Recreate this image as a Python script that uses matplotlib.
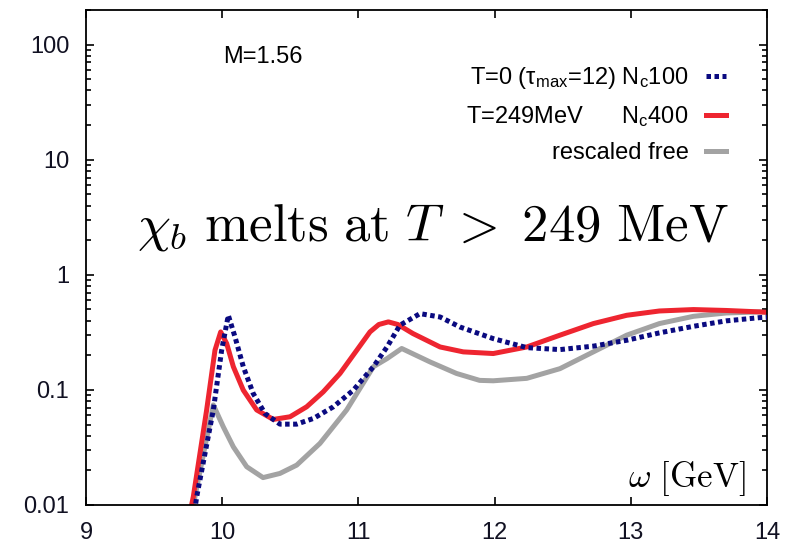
import matplotlib
matplotlib.use("Agg")
import matplotlib.pyplot as plt
from matplotlib.ticker import LogLocator, NullFormatter, FixedLocator

plt.rcParams['font.family'] = ['Liberation Sans', 'DejaVu Sans']
plt.rcParams['mathtext.fontset'] = 'custom'
plt.rcParams['mathtext.rm'] = 'Liberation Sans'
plt.rcParams['mathtext.it'] = 'Liberation Sans:italic'
plt.rcParams['mathtext.bf'] = 'Liberation Sans:bold'

# T=0 (tau_max=12), Nc 100
omega_t0 = [9.78, 9.813, 9.935, 9.996, 10.045, 10.094, 10.155, 10.228, 10.314, 10.424,
            10.547, 10.67, 10.816, 10.963, 11.11, 11.21, 11.305, 11.452, 11.60, 11.746,
            11.99, 12.236, 12.48, 12.725, 12.97, 13.21, 13.46, 13.70, 13.95, 14.0]
rho_t0 = [0.0064, 0.0118, 0.067, 0.221, 0.445, 0.289, 0.159, 0.093, 0.0624, 0.0504,
          0.0504, 0.0565, 0.0713, 0.0995, 0.159, 0.236, 0.365, 0.46, 0.43, 0.352,
          0.279, 0.233, 0.224, 0.24, 0.27, 0.313, 0.357, 0.398, 0.425, 0.428]

# T=249 MeV, Nc 400
omega_t249 = [9.75, 9.788, 9.886, 9.947, 9.989, 10.033, 10.082, 10.155, 10.253, 10.375,
              10.498, 10.62, 10.742, 10.865, 10.988, 11.085, 11.15, 11.22, 11.29, 11.40,
              11.60, 11.77, 11.99, 12.236, 12.48, 12.725, 12.97, 13.21, 13.46, 13.70,
              13.95, 14.0]
rho_t249 = [0.0072, 0.0118, 0.067, 0.221, 0.319, 0.253, 0.159, 0.0995, 0.067, 0.0554,
            0.0584, 0.0713, 0.0962, 0.139, 0.221, 0.319, 0.37, 0.39, 0.37, 0.309,
            0.236, 0.214, 0.207, 0.236, 0.299, 0.377, 0.445, 0.485, 0.499, 0.49,
            0.476, 0.472]

# rescaled free
omega_free = [9.77, 9.80, 9.935, 10.008, 10.082, 10.18, 10.30, 10.424, 10.547, 10.718,
              10.914, 11.11, 11.21, 11.318, 11.526, 11.72, 11.89, 11.99, 12.236, 12.48,
              12.725, 12.97, 13.21, 13.46, 13.70, 13.95, 14.0]
rho_free = [0.0072, 0.0118, 0.074, 0.0478, 0.032, 0.0215, 0.0173, 0.0188, 0.0222, 0.0343,
            0.067, 0.159, 0.187, 0.229, 0.175, 0.139, 0.121, 0.12, 0.126, 0.153,
            0.214, 0.299, 0.377, 0.436, 0.466, 0.476, 0.476]

xticks = [9, 10, 11, 12, 13, 14]
yticks = [0.01, 0.1, 1, 10, 100]
ylabels = ['0.01', '0.1', '1', '10', '100']

fig = plt.figure(figsize=(8.02, 5.43), dpi=100)
ax = fig.add_axes([0.1072, 0.070, 0.8492, 0.9116])

ax.plot(omega_t0, rho_t0, color='#0a0a80', lw=3.6, linestyle=(0, (0.9, 0.7)),
        dash_capstyle='butt', label=r'T=0 (τ$_\mathrm{max}$=12) N$_\mathrm{c}$100', zorder=3)
ax.plot(omega_t249, rho_t249, color='#ee2530', lw=3.6,
        label=r'T=249MeV      N$_\mathrm{c}$400', zorder=2)
ax.plot(omega_free, rho_free, color='#a3a3a3', lw=3.6,
        label='rescaled free', zorder=1)

ax.set_yscale('log')
ax.set_xlim(9, 14)
ax.set_ylim(0.01, 200)
ax.xaxis.set_major_locator(FixedLocator(xticks))
ax.set_yticks(yticks)
ax.set_yticklabels(ylabels)
ax.yaxis.set_minor_locator(LogLocator(base=10, subs=range(2, 10)))
ax.yaxis.set_minor_formatter(NullFormatter())

ax.tick_params(which='both', direction='in', top=True, right=True, labelsize=17,
               labelcolor='#111122')
ax.tick_params(which='major', length=6, width=1.2)
ax.tick_params(which='minor', length=3.5, width=1.2)
ax.tick_params(axis='y', pad=12)
ax.tick_params(axis='x', pad=12)
for s in ax.spines.values():
    s.set_linewidth(1.3)

ax.text(0.201, 0.893, 'M=1.56', transform=ax.transAxes, fontsize=17,
        ha='left', va='baseline')
ax.text(0.075, 0.535, r'$\chi_b\ \mathrm{melts\ at}\ T\;>\;249\ \mathrm{MeV}$',
        transform=ax.transAxes, fontsize=38, math_fontfamily='cm',
        ha='left', va='baseline')
ax.text(0.968, 0.036, r'$\omega\ [\mathrm{GeV}]$', transform=ax.transAxes,
        fontsize=25, math_fontfamily='cm', ha='right', va='baseline')

ax.legend(loc='upper right', bbox_to_anchor=(0.94, 0.888), frameon=False,
          markerfirst=False, fontsize=17, handlelength=0.85, handletextpad=0.75,
          labelspacing=0.55, borderpad=0, borderaxespad=0)

fig.savefig('out.png', dpi=100)
